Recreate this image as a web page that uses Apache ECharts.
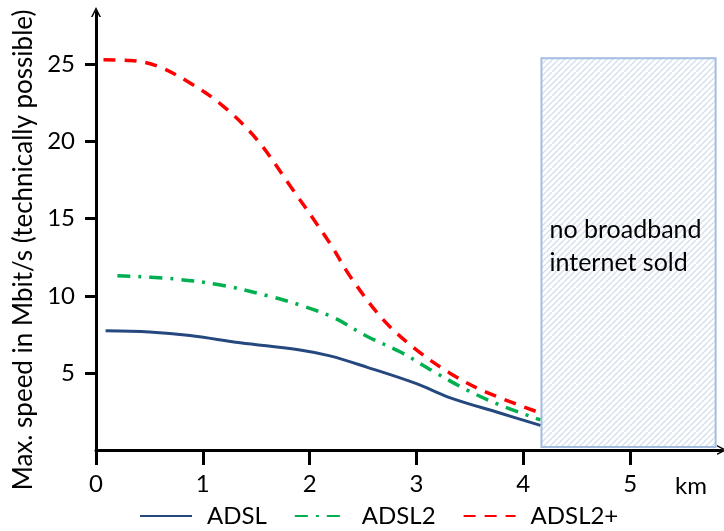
<!DOCTYPE html>
<html>
<head>
<meta charset="utf-8">
<script src="https://cdn.jsdelivr.net/npm/echarts@6/dist/echarts.min.js"></script>
<style>html,body{margin:0;padding:0;background:#fff;}#c{width:724px;height:531px;}</style>
</head>
<body>
<div id="c"></div>
<script>
const seriesNames = ['ADSL', 'ADSL2', 'ADSL2+'];
const kmAdsl = [0.09, 0.5, 0.88, 1.35, 1.91, 2.19, 2.54, 3.0, 3.31, 3.78, 4.16];
const adsl = [7.73, 7.65, 7.42, 6.95, 6.49, 6.1, 5.36, 4.3, 3.4, 2.4, 1.6];
const kmAdsl2 = [0.2, 0.72, 1.19, 1.63, 1.91, 2.22, 2.54, 2.85, 3.16, 3.47, 3.78, 4.16];
const adsl2 = [11.3, 11.1, 10.67, 9.96, 9.4, 8.6, 7.36, 6.35, 5.09, 3.9, 2.92, 1.95];
const kmAdsl2p = [0.07, 0.32, 0.57, 0.88, 1.19, 1.51, 1.82, 2.19, 2.38, 2.69, 3.0, 3.31, 3.62, 4.16];
const adsl2p = [25.3, 25.26, 24.9, 23.8, 22.3, 20.1, 17.1, 13.4, 11.25, 8.44, 6.49, 5.0, 3.85, 2.4];
const noBroadbandX = [4.17, 5.8];
const noBroadbandY = [0.2, 25.4];
const noBroadbandText = 'no broadband\ninternet sold';
const xTicks = ['0', '1', '2', '3', '4', '5'];
const yTicks = ['5', '10', '15', '20', '25'];

function pairs(xs, ys) { return xs.map((x, i) => [x, ys[i]]); }

// hatch pattern
const pc = document.createElement('canvas');
pc.width = 6; pc.height = 6;
const g = pc.getContext('2d');
g.strokeStyle = '#d6e0ef';
g.lineWidth = 1.5;
g.beginPath();
for (let k = -6; k <= 12; k += 6) { g.moveTo(k, 6); g.lineTo(k + 6, 0); }
g.stroke();

const chev = 'path://M0,10 L5,0 L10,10 L8.4,10 L5,3.2 L1.6,10 Z';
const FONT = 'Lato';
const chart = echarts.init(document.getElementById('c'));
chart.setOption({
  animation: false,
  backgroundColor: '#fff',
  textStyle: { fontFamily: FONT },
  grid: { left: 96, right: 2, top: 12, bottom: 81 },
  legend: {
    left: 134, top: 499,
    itemWidth: 52, itemHeight: 14, itemGap: 27,
    itemStyle: { opacity: 0 },
    textStyle: { fontSize: 24, color: '#000', fontFamily: FONT, padding: [0, 0, 0, 10] },
    data: seriesNames
  },
  xAxis: {
    type: 'value', min: 0, max: 5.86, interval: 1,
    name: 'km', nameLocation: 'end', nameGap: -47,
    nameTextStyle: { fontSize: 24, color: '#000', fontFamily: FONT, verticalAlign: 'top', padding: [24, 0, 0, 0] },
    axisLine: { show: true, symbol: ['none', chev], symbolSize: [12, 10], lineStyle: { color: '#000', width: 3 } },
    axisTick: { show: true, length: 15, lineStyle: { width: 3, color: '#000' } },
    axisLabel: { fontSize: 24, color: '#000', margin: 22, fontFamily: FONT,
      formatter: v => xTicks[Math.round(v)] !== undefined && Math.abs(v - Math.round(v)) < 1e-6 ? xTicks[Math.round(v)] : '' ,
      showMaxLabel: false },
    splitLine: { show: false }
  },
  yAxis: {
    type: 'value', min: 0, max: 28.4, interval: 5,
    name: 'Max. speed in Mbit/s (technically possible)', nameLocation: 'middle', nameGap: 58,
    nameTextStyle: { fontSize: 26, color: '#000', fontFamily: FONT, padding: [0, 38, 0, 0] },
    axisLine: { show: true, symbol: ['none', chev], symbolSize: [12, 10], lineStyle: { color: '#000', width: 3 } },
    axisTick: { show: true, length: 11, lineStyle: { width: 3, color: '#000' } },
    axisLabel: { fontSize: 24, color: '#000', margin: 21, fontFamily: FONT, showMinLabel: false, showMaxLabel: false,
      formatter: v => { const i = Math.round(v / 5) - 1; return (i >= 0 && i < yTicks.length) ? yTicks[i] : ''; } },
    splitLine: { show: false }
  },
  series: [
    {
      name: seriesNames[0], type: 'line', smooth: 0.35, symbol: 'none',
      color: '#25487f',
      lineStyle: { color: '#25487f', width: 3 },
      data: pairs(kmAdsl, adsl),
      z: 3,
      markArea: {
        silent: true,
        itemStyle: { color: { image: pc, repeat: 'repeat' }, borderColor: '#a3bcdf', borderWidth: 2 },
        label: { show: true, position: 'insideLeft', distance: 9, offset: [0, -6], fontSize: 25, color: '#000', fontFamily: FONT, lineHeight: 33, align: 'left' },
        data: [[{ coord: [noBroadbandX[0], noBroadbandY[0]], name: noBroadbandText }, { coord: [noBroadbandX[1], noBroadbandY[1]] }]]
      }
    },
    {
      name: seriesNames[1], type: 'line', smooth: 0.35, symbol: 'none',
      color: '#00b050',
      lineStyle: { color: '#00b050', width: 3.5, type: [13, 8, 3, 8] },
      data: pairs(kmAdsl2, adsl2), z: 3
    },
    {
      name: seriesNames[2], type: 'line', smooth: 0.35, symbol: 'none',
      color: '#ff0000',
      lineStyle: { color: '#ff0000', width: 3.5, type: [12, 9] },
      data: pairs(kmAdsl2p, adsl2p), z: 3
    }
  ]
});
</script>
</body>
</html>
